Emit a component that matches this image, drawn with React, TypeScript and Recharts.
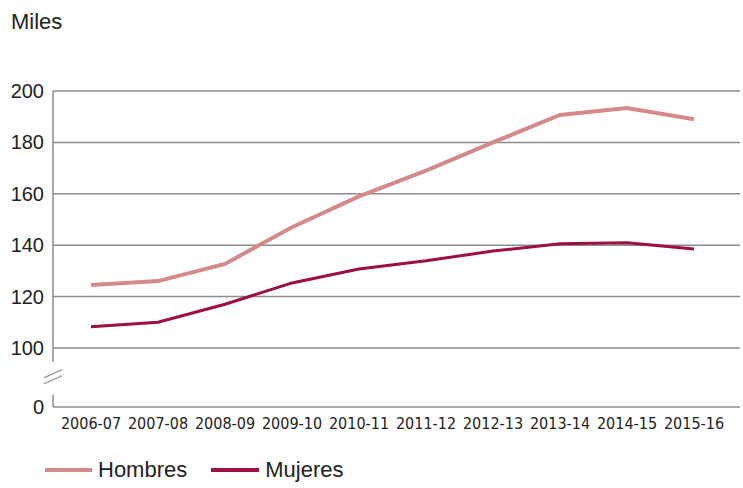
import React from 'react'
import { Line, LineChart, ReferenceLine, XAxis, YAxis } from 'recharts'

const seasons = ['2006-07', '2007-08', '2008-09', '2009-10', '2010-11', '2011-12', '2012-13', '2013-14', '2014-15', '2015-16']
const hombres = [124.5, 126, 132.7, 147, 159, 169, 180, 190.7, 193.4, 189]
const mujeres = [108.2, 110, 117, 125.3, 130.7, 133.9, 137.7, 140.5, 140.9, 138.5]
const gridValues = [100, 120, 140, 160, 180, 200]

// the axis is broken below 100: the "0" sits at BASE so the gap matches the picture
const BASE = 77
const BREAK = 88
const yTicks = [BASE, BREAK, ...gridValues]

const data = seasons.map((s, i) => ({ name: s, hombres: hombres[i], mujeres: mujeres[i] }))

const HOMBRES_COLOR = '#d48a8a'
const MUJERES_COLOR = '#9e0f3e'
const GRID = '#8c8c8c'
const font = '"Liberation Sans", Arial, sans-serif'
const narrow = '"Liberation Sans Narrow", "DejaVu Sans Condensed", "Liberation Sans", sans-serif'

const YTick = (props: any) => {
    const { x, y, payload } = props
    if (payload.value === BREAK) {
        // white gap over the axis line plus the two slashes
        return (
            <g>
                <rect x={x + 3} y={y - 17} width={12} height={33} fill="#fff" />
                <line x1={x - 1} y1={y - 1} x2={x + 17} y2={y - 9} stroke={GRID} strokeWidth={1.3} />
                <line x1={x - 1} y1={y + 5} x2={x + 17} y2={y - 3} stroke={GRID} strokeWidth={1.3} />
            </g>
        )
    }
    const label = payload.value === BASE ? '0' : String(payload.value)
    return (
        <text x={x - 1} y={y} dy={7} textAnchor="end" fontSize={20} fontFamily={font} fill="#222">
            {label}
        </text>
    )
}

export default function App() {
    return (
        <div style={{ position: 'absolute', left: 0, top: 0, width: 743, height: 488, background: '#fff' }}>
            <div style={{ position: 'absolute', left: 11, top: 9, fontFamily: font, fontSize: 22, color: '#222' }}>
                Miles
            </div>
            <LineChart width={743} height={488} data={data} margin={{ top: 91, right: 3, bottom: 51, left: 0 }}>
                {gridValues.map((v) => (
                    <ReferenceLine key={v} y={v} stroke={GRID} strokeWidth={1.5} />
                ))}
                <XAxis
                    dataKey="name"
                    tickLine={false}
                    axisLine={{ stroke: GRID, strokeWidth: 1.5 }}
                    padding={{ left: 38, right: 46 }}
                    interval={0}
                    height={30}
                    tick={{ fontSize: 16, fontFamily: narrow, fill: '#222' }}
                    tickMargin={5}
                />
                <YAxis
                    width={53}
                    domain={[BASE, 200]}
                    ticks={yTicks}
                    allowDataOverflow
                    tickLine={false}
                    axisLine={{ stroke: GRID, strokeWidth: 1.5 }}
                    tick={<YTick />}
                    interval={0}
                />
                <Line type="linear" dataKey="hombres" stroke={HOMBRES_COLOR} strokeWidth={4} dot={false} isAnimationActive={false} />
                <Line type="linear" dataKey="mujeres" stroke={MUJERES_COLOR} strokeWidth={3} dot={false} isAnimationActive={false} />
            </LineChart>
            <div style={{ position: 'absolute', left: 45, top: 457, display: 'flex', alignItems: 'center', fontFamily: font, fontSize: 22, color: '#222' }}>
                <span style={{ display: 'inline-block', width: 47, height: 4, background: HOMBRES_COLOR, marginRight: 6 }} />
                <span style={{ marginRight: 24 }}>Hombres</span>
                <span style={{ display: 'inline-block', width: 48, height: 4, background: MUJERES_COLOR, marginRight: 6 }} />
                <span>Mujeres</span>
            </div>
        </div>
    )
}
